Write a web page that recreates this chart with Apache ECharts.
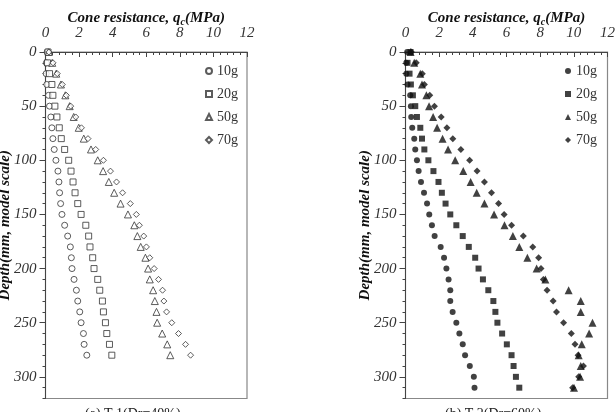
<!DOCTYPE html>
<html>
<head>
<meta charset="utf-8">
<script src="https://cdn.jsdelivr.net/npm/echarts@6/dist/echarts.min.js"></script>
<style>
  html, body { margin: 0; padding: 0; background: #fff; }
  #main { width: 615px; height: 412px; }
</style>
</head>
<body>
<div id="main"></div>
<script>
// depth (mm, model scale)
var depth_a = [0,10,20,30,40,50,60,70,80,90,100,110,120,130,140,150,160,170,180,190,200,210,220,230,240,250,260,270,280];
var depth_b = [0,10,20,30,40,50,60,70,80,90,100,110,120,130,140,150,160,170,180,190,200,210,220,230,240,250,260,270,280,290,300,310];
var depth_ticks = [0,50,100,150,200,250,300];

// cone resistance qc (MPa), left chart (a)
var a_10g = [0.1,0.05,0.04,0.08,0.18,0.24,0.32,0.38,0.44,0.52,0.62,0.74,0.8,0.84,0.9,0.98,1.14,1.32,1.48,1.54,1.58,1.7,1.84,1.92,2.04,2.12,2.26,2.3,2.46];
var a_20g = [0.15,0.12,0.24,0.38,0.44,0.56,0.68,0.82,0.94,1.14,1.38,1.52,1.64,1.76,1.92,2.12,2.4,2.57,2.65,2.81,2.89,3.11,3.23,3.39,3.45,3.57,3.65,3.81,3.95];
var a_50g = [0.2,0.4,0.64,0.92,1.18,1.44,1.68,1.98,2.28,2.71,3.11,3.43,3.77,4.09,4.47,4.91,5.29,5.47,5.67,5.95,6.11,6.21,6.41,6.51,6.61,6.65,6.95,7.25,7.43];
var a_70g = [0.2,0.45,0.7,1.0,1.24,1.5,1.8,2.14,2.53,2.99,3.45,3.87,4.23,4.59,5.05,5.41,5.59,5.85,6.01,6.21,6.47,6.73,6.97,7.05,7.21,7.52,7.92,8.34,8.64];

// right chart (b)
var b_10g = [0.1,0.05,0.05,0.12,0.28,0.32,0.34,0.4,0.52,0.58,0.68,0.78,0.92,1.1,1.28,1.41,1.57,1.73,2.09,2.29,2.43,2.56,2.66,2.66,2.8,3.02,3.2,3.4,3.54,3.82,4.06,4.1];
var b_20g = [0.3,0.12,0.24,0.32,0.44,0.58,0.68,0.88,0.98,1.12,1.36,1.66,1.96,2.16,2.38,2.66,3.02,3.4,3.76,4.14,4.34,4.6,4.92,5.22,5.34,5.46,5.74,6.02,6.3,6.42,6.56,6.76];
var b_50g = [0.3,0.52,0.88,0.98,1.24,1.4,1.64,1.88,2.2,2.53,2.95,3.43,3.87,4.23,4.69,5.26,5.88,6.38,6.76,7.24,7.79,8.31,9.69,10.41,10.41,11.11,10.91,10.47,10.29,10.41,10.37,10.01];
var b_70g = [0.35,0.64,1.0,1.12,1.44,1.72,2.12,2.46,2.81,3.29,3.81,4.25,4.69,5.11,5.53,5.86,6.3,7.0,7.56,7.91,8.05,8.19,8.41,8.77,8.97,9.39,9.85,10.07,10.25,10.57,10.29,9.93];

var legend_names = ['10g','20g','50g','70g'];
var x_title = '{t|Cone resistance, q}{s|c}{t|(MPa)}';
var y_title = 'Depth(mm, model scale)';
var captions = ['(a) T-1(Dr=40%)', '(b) T-2(Dr=60%)'];

var serif = '"Liberation Serif", "DejaVu Serif", serif';

function pairs(vals, depths){//[qc, depth]
  var out = [];
  for (var i = 0; i < vals.length; i++) {
    out.push([vals[i], depths[i]]);
  }
  return out;
}

function make_x(gi){
  return {
    gridIndex: gi,
    type: 'value',
    position: 'top',
    min: 0, max: 12, interval: 2,
    name: x_title,
    nameLocation: 'middle',
    nameGap: 25,
    nameMoveOverlap: false,
    nameTextStyle: {
      rich: {
        t: { fontFamily: serif, fontSize: 15, fontStyle: 'italic', fontWeight: 'bold', color: '#111' },
        s: { fontFamily: serif, fontSize: 10, fontStyle: 'italic', fontWeight: 'bold', color: '#111', padding: [8, 0, 0, 0] }
      }
    },
    axisLine: { lineStyle: { color: '#444', width: 1 } },
    axisTick: { inside: true, length: 5, lineStyle: { color: '#444' } },
    minorTick: { show: true, splitNumber: 5, length: 3, lineStyle: { color: '#444' } },
    axisLabel: { fontFamily: serif, fontSize: 15, fontStyle: 'italic', color: '#333', margin: 11 },
    splitLine: { show: false }
  };
}

function make_y(gi){//minor ticks every 10 + labels
  return {
    gridIndex: gi,
    type: 'value',
    position: 'left',
    inverse: true,
    min: 0, max: 320, interval: 10,
    name: y_title,
    nameLocation: 'middle',
    nameGap: 33,
    nameMoveOverlap: false,
    nameRotate: 90,
    nameTextStyle: { fontFamily: serif, fontSize: 15, fontStyle: 'italic', fontWeight: 'bold', color: '#111' },
    axisLine: { lineStyle: { color: '#444', width: 1 } },
    axisTick: { length: 3, lineStyle: { color: '#444' } },
    axisLabel: {
      fontFamily: serif, fontSize: 15, fontStyle: 'italic', color: '#333', margin: 9,
      formatter: function (v) { return (v % 50 === 0 && v <= 300) ? String(v) : ''; }
    },
    splitLine: { show: false }
  };
}

function make_y_major(gi){//longer ticks every 50
  return {
    gridIndex: gi,
    type: 'value',
    position: 'left',
    inverse: true,
    min: 0, max: 320, interval: 50,
    axisLine: { show: false },
    axisTick: { length: 6, customValues: depth_ticks, lineStyle: { color: '#444' } },
    axisLabel: { show: false },
    splitLine: { show: false }
  };
}

var hollow = { color: '#fff', borderColor: '#333', borderWidth: 1 };
var solid = { color: '#111' };

function sc(name, vals, depths, gi, symbol, size, style){
  return {
    name: name,
    type: 'scatter',
    xAxisIndex: gi,
    yAxisIndex: gi * 2,
    symbol: symbol,
    symbolSize: size,
    itemStyle: style,
    emphasis: { disabled: true },
    data: pairs(vals, depths)
  };
}

function make_legend(left, suffix){
  return {
    orient: 'vertical', left: left, top: 59, itemWidth: 6, itemHeight: 6, itemGap: 9,
    data: legend_names.map(function (n) { return n + suffix; }),
    formatter: function (n) { return n.split('_')[0]; },
    textStyle: { fontFamily: serif, fontSize: 14, color: '#333' }
  };
}

var chart = echarts.init(document.getElementById('main'));
var option = {
  animation: false,
  grid: [
    { left: 45.5, top: 52, width: 201.5, height: 346.5, outerBoundsMode: 'none', show: true, borderColor: '#888', borderWidth: 1.2 },
    { left: 405.5, top: 52, width: 202, height: 346.5, outerBoundsMode: 'none', show: true, borderColor: '#888', borderWidth: 1.2 }
  ],
  xAxis: [make_x(0), make_x(1)],
  yAxis: [make_y(0), make_y_major(0), make_y(1), make_y_major(1)],
  legend: [make_legend(200, '_a'), make_legend(560, '_b')],
  graphic: [
    { type: 'text', left: 85, top: 407, style: { text: captions[0], font: '14px ' + serif, fill: '#222' } },
    { type: 'text', left: 445, top: 407, style: { text: captions[1], font: '14px ' + serif, fill: '#222' } }
  ],
  series: [
    sc('10g_a', a_10g, depth_a, 0, 'circle', 6, hollow),
    sc('20g_a', a_20g, depth_a, 0, 'rect', 6, hollow),
    sc('50g_a', a_50g, depth_a, 0, 'triangle', 7, hollow),
    sc('70g_a', a_70g, depth_a, 0, 'diamond', 6, hollow),
    sc('10g_b', b_10g, depth_b, 1, 'circle', 6, solid),
    sc('20g_b', b_20g, depth_b, 1, 'rect', 6, solid),
    sc('50g_b', b_50g, depth_b, 1, 'triangle', 8, solid),
    sc('70g_b', b_70g, depth_b, 1, 'diamond', 7, solid)
  ]
};
option && chart.setOption(option);
</script>
</body>
</html>
